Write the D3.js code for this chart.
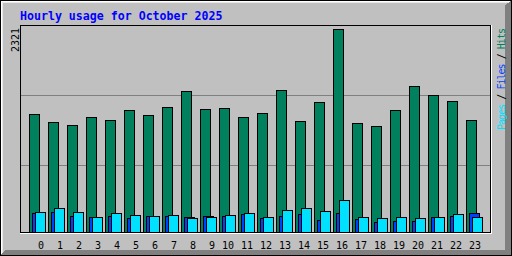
<!DOCTYPE html>
<html>
<head>
<meta charset="utf-8">
<script src="https://cdn.jsdelivr.net/npm/d3@7"></script>
<style>
  body { margin: 0; background: #fff; }
  svg { display: block; }
  text { font-family: "DejaVu Sans Mono", monospace; }
</style>
</head>
<body>
<script>
// hourly counts
const hours = d3.range(24);
const hits  = [1349, 1257, 1223, 1315, 1280, 1395, 1337, 1429, 1612, 1406, 1417, 1315,
               1360, 1623, 1269, 1486, 2321, 1246, 1212, 1395, 1669, 1566, 1497, 1280];
const files = [217, 229, 183, 171, 183, 160, 183, 183, 171, 183, 183, 206,
               160, 183, 206, 137, 217, 149, 114, 126, 126, 171, 183, 217];
const pages = [225, 271, 225, 168, 214, 194, 183, 194, 157, 171, 194, 217,
               171, 251, 274, 240, 366, 171, 160, 171, 160, 171, 206, 171];
const maxLabel = "2321";
const title = "Hourly usage for October 2025";

const W = 512, H = 256;
const grey = "#c0c0c0", dkgrey = "#808080";
const hitColor = "#00805c", fileColor = "#0040ff", pageColor = "#00e0ff";

const svg = d3.select("body").append("svg")
    .attr("width", W)
    .attr("height", H)
    .attr("shape-rendering", "crispEdges");

// frame with the 3d bevel
svg.append("rect").attr("width", W).attr("height", H).attr("fill", grey);
svg.append("polygon")
    .attr("points", "511,0 512,0 512,256 0,256 5,250 505,250 505,5")
    .attr("fill", dkgrey);
svg.append("path").attr("d", "M1.5,254V1.5H510").attr("fill", "none").attr("stroke", "#fff");
svg.append("path").attr("d", "M2.5,253V2.5H509").attr("fill", "none").attr("stroke", "#e8e8e8");
svg.append("rect").attr("x", 0.5).attr("y", 0.5).attr("width", 511).attr("height", 255)
    .attr("fill", "none").attr("stroke", "#000");

// scales
const x = d3.scaleBand().domain(hours).range([29, 29 + 19 * 24]);
const y = d3.scaleLinear().domain([0, +maxLabel]).range([232, 29]);

// plot box
svg.append("rect").attr("x", 20.5).attr("y", 25.5).attr("width", 470).attr("height", 207)
    .attr("fill", grey).attr("stroke", "#000");
svg.append("path").attr("d", "M491.5,25V233.5H20").attr("fill", "none").attr("stroke", "#fff");

// index lines
[95, 165].forEach(gy => {
  svg.append("line").attr("x1", 21).attr("x2", 490)
      .attr("y1", gy + 0.5).attr("y2", gy + 0.5)
      .attr("stroke", dkgrey);
});

function bars(data, offset, color) {
  svg.append("g").selectAll("rect")
    .data(hours.filter(h => data[h] > 0))
    .join("rect")
      .attr("x", h => x(h) + offset + 0.5)
      .attr("y", h => Math.round(y(data[h])) + 0.5)
      .attr("width", 10)
      .attr("height", h => 232 - Math.round(y(data[h])))
      .attr("fill", color)
      .attr("stroke", "#000");
}
bars(hits, 0, hitColor);
bars(files, 3, fileColor);
bars(pages, 6, pageColor);

// hour labels
svg.append("g").selectAll("text")
  .data(hours)
  .join("text")
    .attr("x", h => x(h) + (h < 10 ? 12 : 9))
    .attr("y", 249)
    .attr("text-anchor", "middle")
    .attr("font-size", 10)
    .attr("fill", "#000")
    .text(h => h);

// max value, written upwards
svg.append("text")
    .attr("transform", "translate(19,52) rotate(-90)")
    .attr("font-size", 10)
    .attr("fill", "#000")
    .text(maxLabel);

// title
svg.append("text")
    .attr("x", 20)
    .attr("y", 20)
    .attr("font-size", 11.6)
    .attr("font-weight", "bold")
    .attr("fill", "#0000ff")
    .text(title);

// legend on the right
const legend = svg.append("text")
    .attr("transform", "translate(505,130) rotate(-90)")
    .attr("font-size", 10)
    .attr("textLength", 102)
    .attr("lengthAdjust", "spacing");
[["Pages", pageColor], [" / ", "#000"], ["Files", fileColor], [" / ", "#000"], ["Hits", hitColor]]
  .forEach(([t, c]) => legend.append("tspan").attr("fill", c).text(t));
</script>
</body>
</html>
